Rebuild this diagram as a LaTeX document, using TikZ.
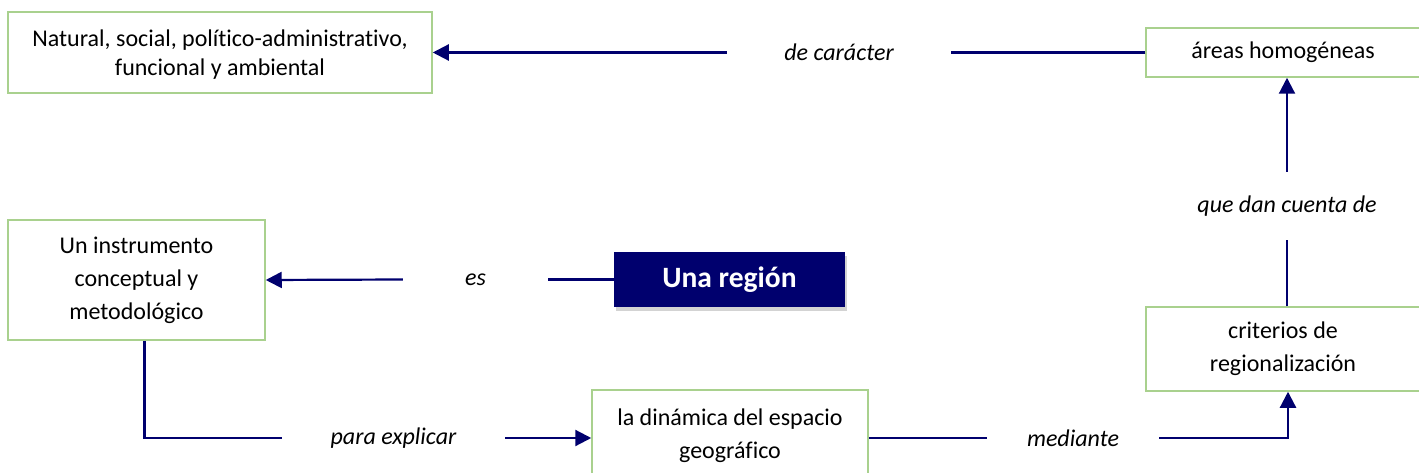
\documentclass[tikz,border=0pt]{standalone}
\usepackage{fontspec}
\setmainfont{Carlito}[Ligatures=NoCommon]
\usetikzlibrary{shadows,arrows.meta}
\definecolor{navy}{RGB}{0,0,110}
\definecolor{boxgreen}{RGB}{169,209,142}

\begin{document}
\begin{tikzpicture}[x=1pt, y=-1pt, >={Triangle[width=16pt,length=16pt]},
    font=\fontsize{24}{33}\selectfont,
    box/.style={draw=boxgreen, line width=1.5pt, fill=white, align=center, inner sep=0pt},
    rel/.style={font=\fontsize{24}{33}\selectfont\itshape, inner sep=0pt},
    link/.style={navy, line width=2.2pt}]

    \useasboundingbox (0,0) rectangle (1419,473);

    % concepts
    \node[box, minimum width=424, minimum height=81, font=\fontsize{24}{29}\selectfont]
        (natural) at (220,52.5)
        {\\[-8pt]Natural, social, político-administrativo,\\funcional y ambiental};
    \node[box, minimum width=274, minimum height=49] (areas) at (1283,52.5) {áreas homogéneas};
    \node[box, minimum width=257, minimum height=120] (instrumento) at (136.5,280)
        {Un instrumento\\conceptual y\\metodológico};
    \node[box, minimum width=274, minimum height=84] (criterios) at (1283,349)
        {criterios de\\regionalización};
    \node[box, minimum width=276, minimum height=92] (dinamica) at (730,436)
        {la dinámica del espacio\\geográfico};
    \node[fill=navy, text=white, minimum width=231, minimum height=55,
        font=\fontsize{29.5}{33}\selectfont\bfseries,
        drop shadow={shadow xshift=2pt, shadow yshift=-4pt, opacity=0.35, fill=gray}]
        (region) at (729.5,279.5) {Una región};

    % linking words
    \node[rel, minimum width=224] (caracter) at (839,52.5) {de carácter};
    \node[rel, minimum width=145] (es) at (475.5,279.5) {es};
    \node[rel, minimum width=223] (explicar) at (393.5,438) {para explicar};
    \node[rel, minimum width=172] (mediante) at (1073,438) {mediante};
    \node[rel, minimum height=68] (cuenta) at (1287,206) {que dan cuenta de};

    % connectors
    \draw[link] (areas.west) -- (caracter.east);
    \draw[link,->] (caracter.west) -- (natural.east);
    \draw[link] (region.west) -- (es.east);
    \draw[link,->] (es.west) -- (instrumento.east);
    \draw[link] ([xshift=8pt]instrumento.south) |- (explicar.west);
    \draw[link,->] (explicar.east) -- (dinamica.west |- explicar);
    \draw[link] (dinamica.east |- mediante) -- (mediante.west);
    \draw[link,->] (mediante.east) -| ([xshift=5pt]criterios.south);
    \draw[link] (criterios.north -| cuenta) -- (cuenta.south);
    \draw[link,->] (cuenta.north) -- (areas.south -| cuenta);

\end{tikzpicture}
\end{document}
